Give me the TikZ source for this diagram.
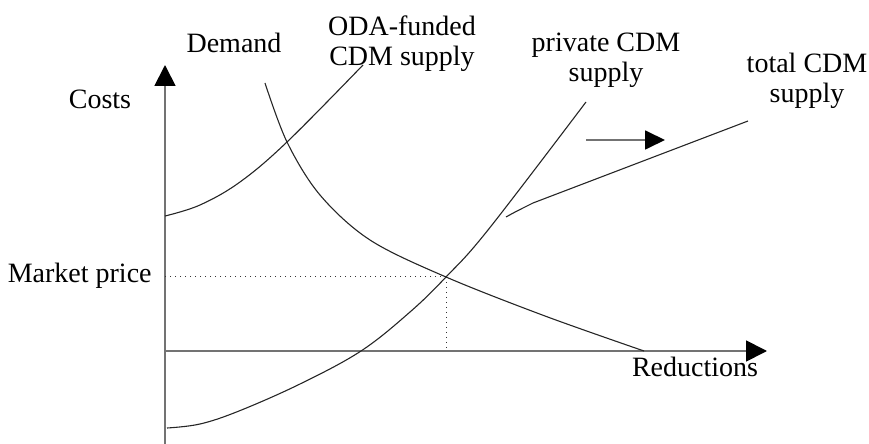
\documentclass[tikz,border=0pt]{standalone}
\usepackage{fontspec}
\setmainfont{Liberation Serif}
\usetikzlibrary{arrows.meta}
\begin{document}
\begin{tikzpicture}[x=0.5pt,y=-0.5pt,
  lbl/.style={font=\fontsize{14}{15}\selectfont,inner sep=0pt,align=center},
  axis/.style={draw=black!55,line width=0.9pt,-{Triangle[length=10.5pt,width=10.5pt,black]}},
  curve/.style={draw=black!85,line width=0.55pt},
  guide/.style={draw=black!80,line width=0.5pt,dotted}]
\useasboundingbox (0,0) rectangle (869,444);
% axes
\coordinate (ybot) at (165,444);
\coordinate (ytop) at (165,65);
\coordinate (O) at (165,351);
\coordinate (xend) at (767,351);
\draw[axis] (ybot) -- (ytop);
\draw[axis] (O) -- (xend);
% equilibrium
\coordinate (E) at (446,277);
\draw[guide] (E) -- (E -| O);
\draw[guide] (E) -- (E |- O);
% demand
\draw[curve] plot[smooth,tension=0.55] coordinates {(265,83) (287,142) (320,195) (370,240) (446,277) (545,316) (644,351)};
% private supply
\draw[curve] plot[smooth,tension=0.6] coordinates {(167,428) (200,424) (239,411) (300,384) (361,351) (410,312) (446,277) (488,230) (586,102)};
% ODA-funded supply
\draw[curve] plot[smooth,tension=0.6] coordinates {(165,216) (200,205) (240,182) (287,142) (363,65)};
% total supply
\coordinate (ts0) at (506,217);
\coordinate (ts1) at (533,203);
\coordinate (ts2) at (748,121);
\draw[curve] (ts0) .. controls (515,212) .. (ts1) -- (ts2);
% shift arrow
\coordinate (sa0) at (586,140);
\coordinate (sa1) at (665,140);
\draw[draw=black!55,line width=0.9pt,-{Triangle[length=10pt,width=9.5pt,black]}] (sa0) -- (sa1);
% labels
\node[lbl,anchor=base] (costs) at (100,109) {Costs};
\node[lbl,anchor=base] (demand) at (234,53) {Demand};
\node[lbl,anchor=north] (oda) at (402,15) {ODA-funded\\CDM supply};
\node[lbl,anchor=north] (priv) at (606,33) {private CDM\\supply};
\node[lbl,anchor=north] (total) at (807,53) {total CDM\\supply};
\node[lbl,anchor=base east] (mp) at (152,283) {Market price};
\node[lbl,anchor=base] (red) at (695,377) {Reductions};
\end{tikzpicture}
\end{document}
